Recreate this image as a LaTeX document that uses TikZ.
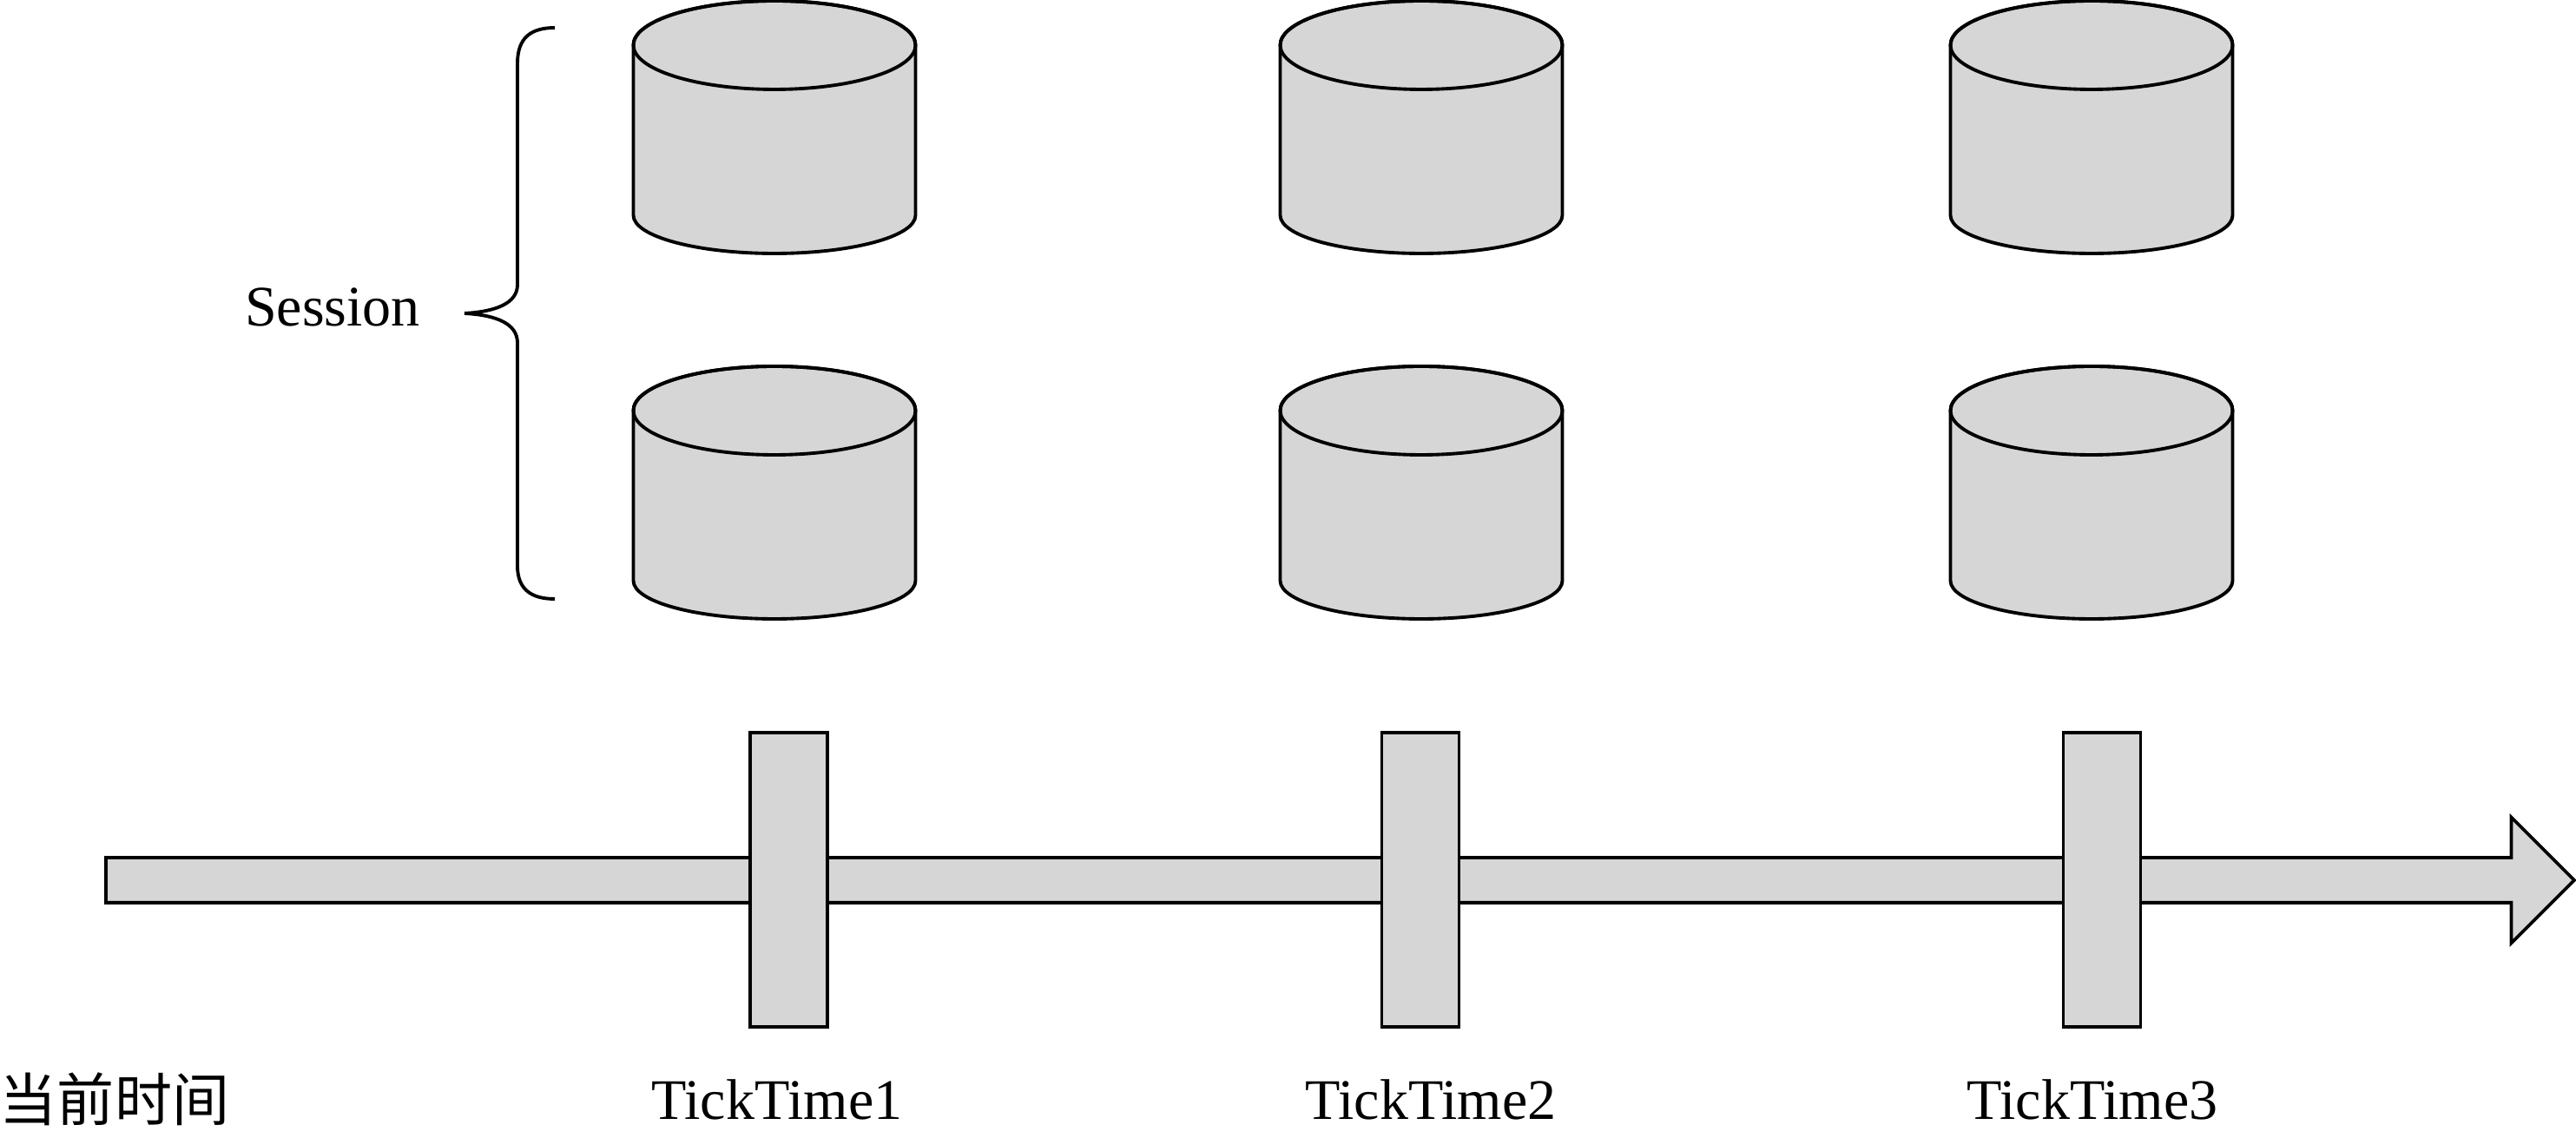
\documentclass[tikz,border=0pt]{standalone}
\usepackage{fontspec}
\setmainfont{Liberation Serif}
\newfontfamily\cjk{Noto Sans CJK SC}
\usepackage{xcolor}
\usetikzlibrary{positioning,calc,shapes.arrows}
\definecolor{SessGrey}{HTML}{D6D6D6}

\begin{document}
\begin{tikzpicture}[
 line width=1.1pt,
 sess/.pic={
  \draw[fill=SessGrey] (-1.625,0.95) -- (-1.625,-1.01) arc[start angle=180,end angle=360,x radius=1.625,y radius=0.44] -- (1.625,0.95) arc[start angle=0,end angle=180,x radius=1.625,y radius=0.51] -- cycle;
  \draw (0,0.95) ellipse[x radius=1.625,y radius=0.51];
 },
 tick/.style={draw=black,fill=SessGrey,minimum width=0.89cm,minimum height=3.39cm,inner sep=0pt,outer sep=0pt},
 lab/.style={anchor=base,inner sep=0pt,font=\fontsize{18.8}{22}\selectfont}]
\useasboundingbox (0,0) rectangle (29.67,13.11);
\foreach \x/\n in {8.92/1,16.37/2,24.09/3}{
  \pic (sa\n) at (\x,11.64) {sess};
  \pic (sb\n) at (\x,7.43) {sess};
}
\node[single arrow,draw=black,fill=SessGrey,minimum width=1.43cm,minimum height=28.43cm,single arrow head extend=0.465cm,inner xsep=0pt,inner ysep=0.24cm,outer sep=0pt] (timeline) at (15.305,2.97) {};
\node[tick] (t1) at (9.085,2.975) {};
\node[tick] (t2) at (16.36,2.975) {};
\node[tick] (t3) at (24.21,2.975) {};
\node[lab] (l1) at (8.95,0.21) {TickTime1};
\node[lab] (l2) at (16.48,0.21) {TickTime2};
\node[lab] (l3) at (24.10,0.21) {TickTime3};
\node[lab] (now) at (1.32,0.19) {\cjk 当前时间};
\node[lab] (session) at (3.83,9.35) {Session};
\coordinate (bracetop) at (6.39,12.79);
\coordinate (bracetip) at (5.35,9.50);
\coordinate (bracebot) at (6.39,6.21);
\draw (bracetop) .. controls (6.12,12.79) and (5.96,12.68) .. (5.96,12.38) -- (5.96,9.83)
  .. controls (5.96,9.62) and (5.72,9.52) .. (bracetip) .. controls (5.72,9.48) and (5.96,9.38) .. (5.96,9.16)
  -- (5.96,6.59) .. controls (5.96,6.32) and (6.12,6.21) .. (bracebot);
\end{tikzpicture}
\end{document}
